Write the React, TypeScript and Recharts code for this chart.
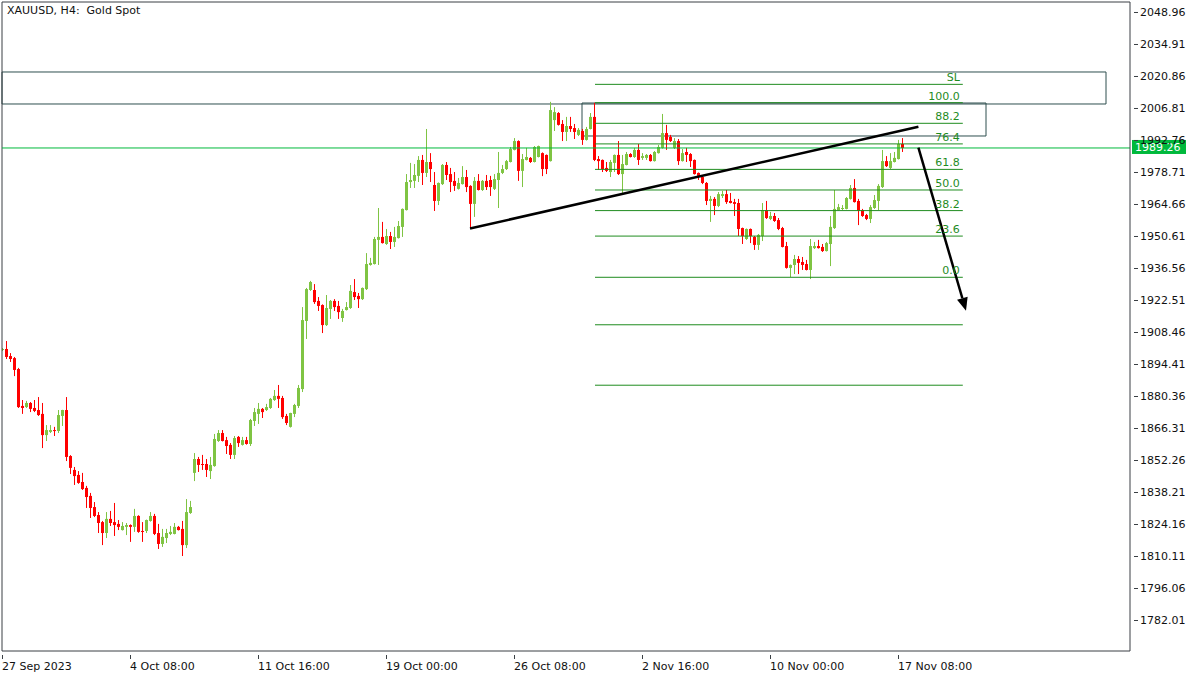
import React from "react";
import {
  ComposedChart,
  Bar,
  XAxis,
  YAxis,
  ReferenceLine,
  ReferenceArea,
} from "recharts";

// ---------- data ----------
const opens = [
  1900.6, 1901.0, 1897.9, 1897.0, 1892.2, 1876.0, 1875.5, 1877.3, 1875.1, 1874.2,
  1872.5, 1863.2, 1864.6, 1865.4, 1865.0, 1871.6, 1874.2, 1854.0, 1847.9, 1845.7,
  1842.6, 1840.0, 1836.5, 1831.6, 1828.1, 1825.0, 1820.2, 1826.4, 1825.0, 1824.2,
  1821.5, 1822.9, 1823.7, 1822.9, 1827.7, 1821.1, 1821.1, 1825.5, 1827.7, 1820.2,
  1815.4, 1818.0, 1819.8, 1819.8, 1822.9, 1822.0, 1814.9, 1829.0, 1846.6, 1852.7,
  1850.5, 1850.5, 1847.4, 1849.6, 1860.6, 1864.1, 1861.0, 1858.9, 1854.5, 1862.4,
  1858.9, 1861.0, 1859.3, 1869.4, 1872.5, 1874.7, 1874.2, 1875.1, 1878.6, 1880.4,
  1879.5, 1871.6, 1866.8, 1872.5, 1876.0, 1883.4, 1913.3, 1926.9, 1926.9, 1922.1,
  1920.3, 1911.5, 1918.6, 1922.1, 1919.9, 1914.6, 1918.1, 1919.0, 1926.0, 1924.3,
  1922.9, 1927.3, 1937.9, 1938.3, 1948.9, 1950.2, 1947.1, 1950.6, 1948.0, 1949.7,
  1954.6, 1962.0, 1974.3, 1974.8, 1977.0, 1984.0, 1978.3, 1983.1, 1973.0, 1966.0,
  1973.4, 1981.8, 1977.8, 1974.8, 1971.3, 1973.4, 1976.5, 1972.6, 1964.7, 1974.8,
  1970.8, 1974.8, 1975.2, 1971.3, 1975.2, 1978.3, 1980.0, 1983.1, 1988.4, 1992.3,
  1979.2, 1984.0, 1984.9, 1983.1, 1985.3, 1987.0, 1986.2, 1983.5, 2001.5, 2004.6,
  1999.8, 1996.3, 1998.9, 1998.0, 1995.0, 1996.7, 1992.8, 1997.6, 2002.9, 1984.4,
  1984.0, 1980.5, 1978.7, 1982.7, 1986.2, 1977.8, 1981.8, 1986.6, 1985.3, 1988.4,
  1984.9, 1984.9, 1986.2, 1983.5, 1987.0, 1989.3, 1995.8, 1994.1, 1989.3, 1992.3,
  1983.5, 1987.5, 1986.6, 1984.0, 1978.3, 1976.5, 1973.9, 1966.0, 1966.9, 1963.8,
  1968.2, 1969.0, 1966.0, 1965.5, 1965.1, 1954.1, 1949.3, 1953.7, 1950.2, 1946.7,
  1950.6, 1962.0, 1958.1, 1959.4, 1957.6, 1954.1, 1946.2, 1936.6, 1937.9, 1940.5,
  1939.2, 1938.3, 1935.7, 1945.3, 1946.2, 1945.8, 1944.0, 1947.1, 1954.1, 1962.0,
  1962.5, 1962.5, 1966.9, 1971.7, 1966.0, 1962.0, 1959.8, 1958.1, 1962.9, 1966.0,
  1972.1, 1983.5, 1980.5, 1983.1, 1984.4, 1991.0,
];
const highs = [
  1901.4, 1904.5, 1899.2, 1897.5, 1892.7, 1878.6, 1878.2, 1877.7, 1878.6, 1879.9,
  1877.3, 1867.6, 1867.6, 1866.8, 1874.2, 1874.3, 1879.9, 1854.4, 1849.2, 1847.4,
  1846.6, 1840.9, 1837.8, 1833.8, 1829.4, 1825.5, 1829.4, 1829.9, 1833.4, 1825.9,
  1825.0, 1824.6, 1824.0, 1830.8, 1828.0, 1825.0, 1826.1, 1829.4, 1828.6, 1824.2,
  1822.0, 1822.0, 1823.3, 1824.6, 1823.3, 1825.5, 1835.1, 1834.3, 1855.3, 1853.6,
  1854.5, 1852.7, 1853.6, 1863.7, 1865.4, 1865.4, 1862.4, 1859.7, 1862.8, 1862.8,
  1862.4, 1862.4, 1870.3, 1875.1, 1877.3, 1875.1, 1876.9, 1879.5, 1883.0, 1885.2,
  1880.4, 1872.5, 1873.0, 1876.9, 1885.2, 1919.4, 1927.8, 1930.9, 1929.5, 1923.8,
  1920.6, 1924.7, 1922.5, 1922.9, 1922.1, 1918.6, 1921.6, 1929.1, 1931.7, 1925.6,
  1928.0, 1943.1, 1941.0, 1950.2, 1962.9, 1956.8, 1953.7, 1952.4, 1954.6, 1957.2,
  1962.7, 1977.8, 1982.7, 1982.2, 1985.7, 1986.2, 1997.6, 1987.0, 1978.7, 1974.1,
  1982.2, 1983.1, 1980.5, 1978.7, 1976.1, 1981.3, 1979.6, 1972.9, 1976.5, 1977.8,
  1975.2, 1977.4, 1977.0, 1977.8, 1987.5, 1981.8, 1984.0, 1989.7, 1993.6, 1992.6,
  1986.6, 1989.3, 1985.3, 1990.1, 1990.3, 1987.3, 1986.4, 2009.5, 2007.2, 2005.0,
  2001.5, 2002.9, 2002.9, 1999.8, 1998.0, 1997.6, 1998.5, 2004.6, 2009.1, 1985.7,
  1984.2, 1983.1, 1984.0, 1986.4, 1992.3, 1986.2, 1987.5, 1987.0, 1989.3, 1991.0,
  1987.0, 1986.6, 1986.6, 1987.9, 1990.6, 2004.2, 1999.4, 1995.0, 1993.6, 1993.2,
  1988.8, 1989.3, 1987.0, 1984.2, 1978.5, 1977.0, 1974.3, 1968.2, 1967.7, 1969.9,
  1970.4, 1970.8, 1969.5, 1966.9, 1966.9, 1954.3, 1953.9, 1953.9, 1950.6, 1951.5,
  1965.1, 1966.0, 1961.2, 1960.7, 1958.5, 1954.6, 1948.0, 1938.1, 1942.3, 1941.8,
  1941.4, 1940.1, 1949.3, 1948.0, 1948.9, 1947.1, 1948.0, 1959.4, 1970.8, 1964.7,
  1964.2, 1967.7, 1973.0, 1975.6, 1966.9, 1962.5, 1960.3, 1964.2, 1968.6, 1973.4,
  1988.4, 1985.7, 1987.0, 1987.5, 1992.8, 1993.6,
];
const lows = [
  1900.1, 1896.6, 1895.3, 1889.1, 1875.1, 1872.5, 1875.1, 1873.3, 1873.3, 1871.6,
  1857.5, 1860.6, 1864.1, 1862.8, 1864.1, 1867.2, 1851.8, 1846.1, 1841.3, 1841.8,
  1839.1, 1831.2, 1826.8, 1827.2, 1820.2, 1814.9, 1818.0, 1823.3, 1818.9, 1821.5,
  1821.3, 1819.3, 1816.3, 1820.7, 1820.3, 1816.3, 1820.2, 1825.2, 1819.3, 1813.2,
  1814.1, 1815.8, 1819.3, 1819.6, 1821.3, 1810.1, 1813.6, 1828.6, 1843.0, 1847.0,
  1847.9, 1844.8, 1843.9, 1849.3, 1860.2, 1860.4, 1854.9, 1852.7, 1852.7, 1858.0,
  1858.6, 1859.0, 1858.4, 1867.2, 1868.1, 1870.7, 1873.8, 1874.7, 1878.2, 1875.1,
  1870.3, 1867.6, 1866.5, 1871.1, 1875.1, 1882.1, 1905.4, 1926.5, 1920.8, 1917.7,
  1908.0, 1911.1, 1914.2, 1917.7, 1914.2, 1912.9, 1917.9, 1918.6, 1922.5, 1919.0,
  1922.5, 1926.9, 1937.6, 1938.1, 1937.9, 1947.3, 1946.7, 1944.9, 1945.8, 1949.5,
  1950.2, 1961.8, 1971.7, 1971.7, 1974.3, 1973.0, 1976.5, 1974.3, 1961.6, 1964.2,
  1973.0, 1975.2, 1969.9, 1970.4, 1971.0, 1973.2, 1969.9, 1954.1, 1959.0, 1970.6,
  1970.4, 1970.8, 1968.2, 1970.8, 1962.9, 1977.8, 1979.6, 1982.9, 1988.2, 1974.8,
  1972.1, 1983.8, 1982.7, 1982.9, 1985.1, 1976.9, 1977.8, 1983.3, 1996.7, 1999.1,
  1992.3, 1992.3, 1996.3, 1993.2, 1994.5, 1990.6, 1992.5, 1997.4, 1983.5, 1979.6,
  1978.7, 1978.7, 1976.5, 1978.7, 1977.4, 1969.0, 1981.6, 1985.1, 1984.9, 1981.8,
  1984.0, 1984.0, 1983.3, 1983.3, 1986.8, 1989.0, 1988.4, 1991.9, 1988.8, 1981.8,
  1983.3, 1983.1, 1980.9, 1977.6, 1975.2, 1973.4, 1964.2, 1956.8, 1959.8, 1963.3,
  1967.3, 1964.7, 1964.9, 1959.4, 1950.6, 1947.1, 1948.9, 1947.5, 1944.5, 1944.5,
  1948.4, 1958.1, 1957.6, 1956.8, 1953.2, 1945.6, 1936.3, 1932.6, 1933.9, 1933.9,
  1935.7, 1935.5, 1931.7, 1944.9, 1945.1, 1943.6, 1943.8, 1937.4, 1953.7, 1961.8,
  1962.0, 1962.3, 1966.6, 1965.3, 1955.4, 1959.0, 1957.6, 1956.3, 1962.5, 1962.0,
  1971.7, 1980.9, 1980.0, 1982.9, 1984.2, 1987.5,
];
const closes = [
  1901.0, 1897.5, 1896.6, 1891.8, 1875.5, 1875.1, 1877.3, 1874.7, 1873.8, 1872.0,
  1863.2, 1865.4, 1865.4, 1865.0, 1872.0, 1874.2, 1853.6, 1848.8, 1845.2, 1842.2,
  1839.5, 1836.0, 1831.2, 1827.7, 1824.6, 1820.2, 1826.4, 1824.6, 1823.7, 1822.9,
  1823.3, 1823.7, 1822.9, 1827.7, 1820.7, 1820.7, 1825.9, 1827.7, 1819.8, 1815.4,
  1818.5, 1820.2, 1820.7, 1822.9, 1821.5, 1814.9, 1829.4, 1831.6, 1852.7, 1850.1,
  1850.1, 1847.9, 1850.1, 1861.5, 1864.1, 1860.6, 1858.4, 1854.5, 1861.9, 1859.7,
  1861.0, 1859.3, 1869.8, 1873.3, 1874.7, 1873.3, 1875.5, 1879.1, 1880.4, 1879.1,
  1871.1, 1868.5, 1872.9, 1876.4, 1883.9, 1913.7, 1927.3, 1930.4, 1921.6, 1919.9,
  1911.5, 1919.0, 1922.1, 1919.4, 1917.2, 1917.7, 1919.4, 1926.5, 1923.8, 1922.9,
  1927.8, 1938.3, 1938.8, 1949.3, 1950.2, 1947.5, 1950.6, 1948.0, 1950.2, 1955.0,
  1962.5, 1974.3, 1975.2, 1977.4, 1984.0, 1978.3, 1983.1, 1980.0, 1966.0, 1973.9,
  1981.8, 1977.4, 1974.3, 1972.6, 1973.9, 1976.5, 1972.1, 1964.7, 1974.8, 1970.8,
  1974.8, 1972.1, 1972.1, 1975.6, 1978.3, 1980.0, 1983.5, 1988.8, 1992.3, 1979.2,
  1984.4, 1985.3, 1983.1, 1989.7, 1990.1, 1980.0, 1980.0, 2005.9, 2005.0, 1999.4,
  1996.3, 1998.9, 1997.6, 1996.3, 1997.2, 1992.8, 1997.6, 2002.9, 1984.0, 1983.5,
  1980.0, 1979.2, 1983.1, 1986.2, 1977.8, 1982.2, 1986.6, 1985.3, 1988.4, 1984.0,
  1985.7, 1986.2, 1983.5, 1987.5, 1989.7, 1995.8, 1992.8, 1992.3, 1992.3, 1983.5,
  1987.0, 1986.2, 1983.5, 1977.8, 1977.0, 1973.9, 1966.0, 1966.9, 1963.8, 1969.0,
  1969.0, 1965.5, 1965.1, 1964.7, 1953.7, 1950.6, 1953.7, 1950.6, 1946.7, 1951.1,
  1962.0, 1958.5, 1959.4, 1957.2, 1953.7, 1945.8, 1936.6, 1937.9, 1940.5, 1938.8,
  1937.9, 1935.7, 1946.2, 1946.2, 1945.3, 1944.0, 1947.5, 1954.6, 1962.5, 1963.3,
  1962.9, 1967.3, 1971.7, 1965.5, 1961.6, 1959.4, 1958.1, 1963.3, 1966.4, 1972.6,
  1983.5, 1981.3, 1983.5, 1984.9, 1991.0, 1989.26,
];

const yTicks = [
  1782.01, 1796.06, 1810.11, 1824.16, 1838.21, 1852.26, 1866.31, 1880.36, 1894.41,
  1908.46, 1922.51, 1936.56, 1950.61, 1964.66, 1978.71, 1992.76, 2006.81, 2020.86,
  2034.91, 2048.96,
];
const xTickBars = [0, 32, 64, 96, 128, 160, 192, 224];
const xTickLabels = [
  "27 Sep 2023", "4 Oct 08:00", "11 Oct 16:00", "19 Oct 00:00",
  "26 Oct 08:00", "2 Nov 16:00", "10 Nov 00:00", "17 Nov 08:00",
];

const fibLabels = ["SL", "100.0", "88.2", "76.4", "61.8", "50.0", "38.2", "23.6", "0.0", "", ""];
const fibPrices = [2017.19, 2009.14, 2000.09, 1991.05, 1979.86, 1970.81, 1961.76, 1950.57, 1932.48, 1911.63, 1885.1];
const fibFromBar = 148.25;
const fibToBar = 240.2;

const currentPrice = 1989.26;

// zones: [fromBar, toBar, topPrice, bottomPrice]
const zoneBig = [0, 276, 2022.62, 2008.57];
const zoneSmall = [145, 246, 2009.0, 1994.52];

// trend line and arrow: [bar, price] pairs
const trendFrom = [117, 1953.9];
const trendTo = [229.1, 1998.6];
const arrowFrom = [229.1, 1989.4];
const arrowTo = [241, 1917.8];

const Y_MIN = 1768.4;
const Y_MAX = 2053.35;
const X_MAX = 282;

// ---------- styles ----------
const GREEN = "#7fc443";
const RED = "#ff0000";
const FIB = "#1f8c1f";
const PRICE_GREEN = "#00b93c";
const FRAME = "#3a3f44";
const ZONE = "#2e4f4f";
const FONT = "DejaVu Sans";

const data = opens.map((o, i) => ({
  i,
  open: o,
  high: highs[i],
  low: lows[i],
  close: closes[i],
  range: [lows[i], highs[i]],
}));

const Candle = (props: any) => {
  const { x, y, width, height, payload } = props;
  if (!payload) return null;
  const { open, close, high, low } = payload;
  const top = Math.min(y, y + height);
  const h = Math.abs(height);
  const k = high - low > 0 ? h / (high - low) : 0;
  const cx = Math.round(x + width / 2);
  const yO = top + (high - open) * k;
  const yC = top + (high - close) * k;
  const color = close >= open ? GREEN : RED;
  const bTop = Math.min(yO, yC);
  const bH = Math.max(1, Math.abs(yO - yC));
  return (
    <g>
      <line x1={cx + 0.5} x2={cx + 0.5} y1={top} y2={top + h} stroke={color} strokeWidth={1} />
      <rect x={cx - 1} y={bTop} width={3} height={bH} fill={color} />
    </g>
  );
};

const XTick = (props: any) => {
  const { x, y, payload } = props;
  const idx = xTickBars.indexOf(payload.value);
  return (
    <g>
      <line x1={x + 0.5} x2={x + 0.5} y1={y - 4} y2={y} stroke={FRAME} />
      <text x={x} y={y + 11} fontSize={11} fontFamily={FONT} fill="#111" textAnchor="start">
        {idx >= 0 ? xTickLabels[idx] : ""}
      </text>
    </g>
  );
};

const YTick = (props: any) => {
  const { x, y, payload } = props;
  return (
    <g>
      <line x1={x - 4} x2={x} y1={y + 0.5} y2={y + 0.5} stroke={FRAME} />
      <text x={x + 2} y={y + 4} fontSize={11} fontFamily={FONT} fill="#111" textAnchor="start">
        {Number(payload.value).toFixed(2)}
      </text>
    </g>
  );
};

const ArrowShape = (props: any) => {
  const { x1, y1, x2, y2 } = props;
  const dx = x2 - x1;
  const dy = y2 - y1;
  const len = Math.sqrt(dx * dx + dy * dy) || 1;
  const ux = dx / len;
  const uy = dy / len;
  const hl = 13;
  const hw = 5.5;
  const bx = x2 - ux * hl;
  const by = y2 - uy * hl;
  const pts = `${x2},${y2} ${bx - uy * hw},${by + ux * hw} ${bx + uy * hw},${by - ux * hw}`;
  return (
    <g>
      <line x1={x1} y1={y1} x2={bx} y2={by} stroke="#000" strokeWidth={2.5} />
      <polygon points={pts} fill="#000" />
    </g>
  );
};

const PriceLabel = (props: any) => {
  const vb = props.viewBox || {};
  const x = (vb.x || 0) + (vb.width || 0);
  const y = vb.y || 0;
  return (
    <g>
      <rect x={x + 2} y={y - 8} width={54} height={14} fill={PRICE_GREEN} />
      <text x={x + 5} y={y + 3.5} fontSize={11} fontFamily={FONT} fill="#fff" textAnchor="start">
        {currentPrice.toFixed(2)}
      </text>
    </g>
  );
};

export default function App() {
  return (
    <div
      style={{
        position: "absolute",
        left: 0,
        top: 0,
        width: 1200,
        height: 675,
        background: "#fff",
        fontFamily: FONT,
      }}
    >
      <ComposedChart
        width={1200}
        height={675}
        data={data}
        margin={{ top: 2, right: 0, bottom: 0, left: 2 }}
      >
        <XAxis
          dataKey="i"
          type="number"
          domain={[0, X_MAX]}
          allowDataOverflow
          ticks={xTickBars}
          interval={0}
          height={24}
          tick={<XTick />}
          tickLine={false}
          axisLine={{ stroke: FRAME }}
        />
        <YAxis
          orientation="right"
          type="number"
          domain={[Y_MIN, Y_MAX]}
          allowDataOverflow
          ticks={yTicks}
          interval={0}
          width={70}
          tick={<YTick />}
          tickLine={false}
          axisLine={{ stroke: FRAME }}
        />
        <ReferenceLine x={0} stroke={FRAME} ifOverflow="visible" />
        <ReferenceLine y={Y_MAX} stroke={FRAME} ifOverflow="visible" />

        <ReferenceArea
          x1={zoneBig[0]}
          x2={zoneBig[1]}
          y1={zoneBig[3]}
          y2={zoneBig[2]}
          fill="none"
          fillOpacity={0}
          stroke={ZONE}
          strokeWidth={1}
          ifOverflow="visible"
        />
        <ReferenceArea
          x1={zoneSmall[0]}
          x2={zoneSmall[1]}
          y1={zoneSmall[3]}
          y2={zoneSmall[2]}
          fill="none"
          fillOpacity={0}
          stroke={ZONE}
          strokeWidth={1}
          ifOverflow="visible"
        />

        {fibPrices.map((p, k) => (
          <ReferenceLine
            key={"fib" + k}
            segment={[
              { x: fibFromBar, y: p },
              { x: fibToBar, y: p },
            ]}
            stroke={FIB}
            strokeWidth={1}
            ifOverflow="visible"
            label={
              fibLabels[k]
                ? {
                    value: fibLabels[k],
                    position: "insideBottomRight",
                    offset: 3,
                    fill: FIB,
                    fontSize: 11,
                    fontFamily: FONT,
                  }
                : undefined
            }
          />
        ))}

        <ReferenceLine
          y={currentPrice}
          stroke={PRICE_GREEN}
          strokeWidth={1}
          ifOverflow="visible"
          label={<PriceLabel />}
        />

        <Bar
          dataKey="range"
          barSize={3}
          shape={<Candle />}
          isAnimationActive={false}
        />

        <ReferenceLine
          segment={[
            { x: trendFrom[0], y: trendFrom[1] },
            { x: trendTo[0], y: trendTo[1] },
          ]}
          stroke="#000"
          strokeWidth={2.5}
          ifOverflow="visible"
        />
        <ReferenceLine
          segment={[
            { x: arrowFrom[0], y: arrowFrom[1] },
            { x: arrowTo[0], y: arrowTo[1] },
          ]}
          stroke="#000"
          strokeWidth={2.5}
          ifOverflow="visible"
          shape={<ArrowShape />}
        />
      </ComposedChart>
      <div
        style={{
          position: "absolute",
          left: 7,
          top: 4,
          fontSize: 11,
          fontFamily: FONT,
          color: "#111",
          whiteSpace: "pre",
          lineHeight: "14px",
        }}
      >
        {"XAUUSD, H4:  Gold Spot"}
      </div>
    </div>
  );
}
